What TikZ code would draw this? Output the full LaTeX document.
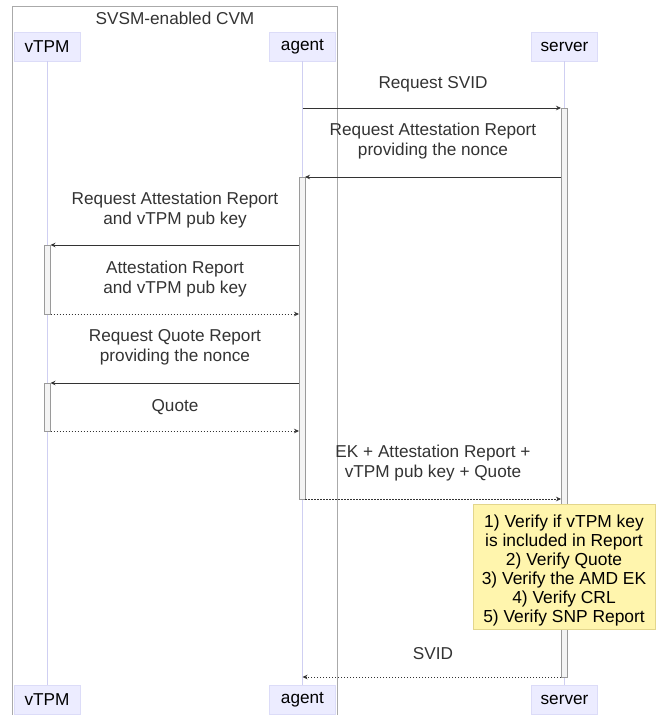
\documentclass[tikz,border=0pt]{standalone}
\usepackage{fontspec}
\setmainfont{Liberation Sans}
\usetikzlibrary{arrows.meta}
\definecolor{actorfill}{HTML}{ECECFF}
\definecolor{actorline}{HTML}{DCDCF8}
\definecolor{lifeline}{HTML}{CFCFF2}
\definecolor{ink}{HTML}{333333}
\definecolor{notefill}{HTML}{FFF5AD}
\definecolor{noteline}{HTML}{E3D68C}
\definecolor{barfill}{HTML}{F4F4F4}
\definecolor{barline}{HTML}{9A9A9A}
\definecolor{groupline}{HTML}{AAAAAA}
\tikzset{
  actor/.style={rectangle, fill=actorfill, draw=actorline, line width=0.6pt,
    minimum width=66pt, minimum height=29pt, inner sep=0pt, text=black},
  life/.style={draw=lifeline, line width=0.8pt},
  actbar/.style={fill=barfill, draw=barline, line width=0.6pt},
  msg/.style={draw=ink, line width=0.7pt, -{Stealth[length=5pt,width=4.5pt]}},
  reply/.style={msg, dash pattern=on 1.5pt off 1.5pt},
  label/.style={text=ink, align=center, inner sep=0pt},
  notebox/.style={rectangle, fill=notefill, draw=noteline, line width=0.8pt,
    minimum width=182pt, minimum height=125pt, inner sep=0pt},
  notetext/.style={align=center, inner sep=0pt, text=black,
    font=\fontsize{17.4}{19}\selectfont}
}
\begin{document}
\begin{tikzpicture}[x=1pt, y=-1pt, font=\fontsize{17.2}{20}\selectfont]
\useasboundingbox (0,0) rectangle (661,715);

% enclosing group for the confidential VM
\draw[groupline, line width=0.7pt] (12,715) -- (12,6) -- (337,6) -- (337,715);
\node[label] (cvm) at (175,18) {SVSM-enabled CVM};

% participants (top and bottom)
\node[actor] (vtpm) at (47,46.5) {vTPM};
\node[actor] (agent) at (302.5,46.5) {agent};
\node[actor] (server) at (564.5,46.5) {server};
\node[actor] (vtpmB) at (47,700) {vTPM};
\node[actor] (agentB) at (302.5,700) {agent};
\node[actor] (serverB) at (564.5,700) {server};

% lifelines
\draw[life] (vtpm) -- (vtpmB);
\draw[life] (agent) -- (agentB);
\draw[life] (server) -- (serverB);

% activation bars
\draw[actbar] (561,108) rectangle (567,677);
\draw[actbar] (299,177) rectangle (305,499);
\draw[actbar] (44.5,245) rectangle (50.5,314);
\draw[actbar] (44.5,383) rectangle (50.5,431);

% message end points
\coordinate (a1) at (302.5,108);  \coordinate (s1) at (561,108);
\coordinate (s2) at (561,177);    \coordinate (a2) at (305,177);
\coordinate (a3) at (299,245);    \coordinate (v3) at (50.5,245);
\coordinate (v4) at (50.5,314);   \coordinate (a4) at (299,314);
\coordinate (a5) at (299,383);    \coordinate (v5) at (50.5,383);
\coordinate (v6) at (50.5,431);   \coordinate (a6) at (299,431);
\coordinate (a7) at (305,499);    \coordinate (s7) at (561,499);
\coordinate (s8) at (561,677);    \coordinate (a8) at (302.5,677);

% messages
\draw[msg] (a1) -- (s1);
\node[label] (m1) at (433,84) {Request SVID};
\draw[msg] (s2) -- (a2);
\node[label] (m2) at (433,141.5) {Request Attestation Report\\providing the nonce};
\draw[msg] (a3) -- (v3);
\node[label] (m3) at (175,210) {Request Attestation Report\\and vTPM pub key};
\draw[reply] (v4) -- (a4);
\node[label] (m4) at (175,279) {Attestation Report\\and vTPM pub key};
\draw[msg] (a5) -- (v5);
\node[label] (m5) at (175,347) {Request Quote Report\\providing the nonce};
\draw[reply] (v6) -- (a6);
\node[label] (m6) at (175,407) {Quote};
\draw[reply] (a7) -- (s7);
\node[label] (m7) at (433,463.5) {EK + Attestation Report +\\vTPM pub key + Quote};

% server-side checks
\node[notebox] (checks) at (564,566.5) {};
\node[notetext] (checksText) at ([yshift=-4pt]checks.center) {1) Verify if vTPM key\\is included in Report\\2) Verify Quote\\3) Verify the AMD EK\\4) Verify CRL\\5) Verify SNP Report};

\draw[reply] (s8) -- (a8);
\node[label] (m8) at (433,654) {SVID};
\end{tikzpicture}
\end{document}
